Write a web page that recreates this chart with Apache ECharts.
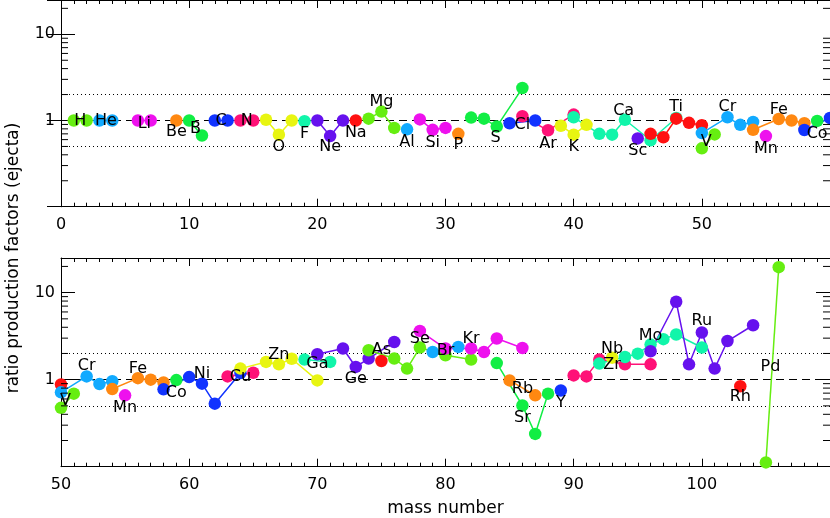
<!DOCTYPE html>
<html>
<head>
<meta charset="utf-8">
<script src="https://cdn.jsdelivr.net/npm/echarts@6.0.0/dist/echarts.min.js"></script>
<style>
  html, body { margin: 0; padding: 0; background: #fff; }
  #chart { width: 830px; height: 518px; }
</style>
</head>
<body>
<div id="chart"></div>
<script>
// isotope data: [mass number, ratio production factor]
const H  = [[1, 1.00], [2, 1.00]];
const He = [[3, 1.00], [4, 1.00]];
const Li = [[6, 1.00], [7, 1.00]];
const Be = [[9, 1.00]];
const B  = [[10, 1.00], [11, 0.67]];
const C  = [[12, 1.00], [13, 1.00]];
const N  = [[14, 1.00], [15, 1.00]];
const O  = [[16, 1.02], [17, 0.685], [18, 1.00]];
const F  = [[19, 0.98]];
const Ne = [[20, 1.00], [21, 0.66], [22, 1.00]];
const Na = [[23, 1.00]];
const Mg = [[24, 1.05], [25, 1.27], [26, 0.82]];
const Al = [[27, 0.79]];
const Si = [[28, 1.03], [29, 0.78], [30, 0.82]];
const P  = [[31, 0.70]];
const S  = [[32, 1.08], [33, 1.05], [34, 0.85], [36, 2.38]];
const Cl = [[35, 0.93], [37, 1.00]];
const Ar = [[36, 1.12], [38, 0.77], [40, 1.17]];
const K  = [[39, 0.87], [40, 0.685], [41, 0.89]];
const Ca = [[40, 1.09], [42, 0.70], [43, 0.685], [44, 1.02], [46, 0.59], [48, 1.07]];
const Sc = [[45, 0.62]];
const Ti = [[46, 0.70], [47, 0.64], [48, 1.05], [49, 0.94], [50, 0.88]];
const V  = [[50, 0.475], [51, 0.69]];
const Cr = [[50, 0.715], [52, 1.09], [53, 0.89], [54, 0.96]];
const Mn = [[55, 0.66]];
const Fe = [[54, 0.78], [56, 1.04], [57, 1.00], [58, 0.93]];
const Co = [[59, 0.99]];
const Ni = [[58, 0.775], [60, 1.07], [61, 0.90], [62, 0.53], [64, 1.19]];
const Cu = [[63, 1.09], [65, 1.20]];
const Zn = [[64, 1.34], [66, 1.60], [67, 1.50], [68, 1.74], [70, 0.98]];
const Ga = [[69, 1.70], [71, 1.60]];
const Ge = [[70, 1.96], [72, 2.28], [73, 1.40], [74, 1.75], [76, 2.71]];
const As = [[75, 1.64]];
const Se = [[74, 2.18], [76, 1.75], [77, 1.34], [78, 2.34], [80, 1.91], [82, 1.70]];
const Br = [[79, 2.08], [81, 2.38]];
const Kr = [[78, 3.63], [80, 2.28], [82, 2.28], [83, 2.08], [84, 2.97], [86, 2.31]];
const Rb = [[85, 0.98], [87, 0.66]];
const Sr = [[84, 1.55], [86, 0.505], [87, 0.238], [88, 0.69]];
const Y  = [[89, 0.75]];
const Zr = [[90, 1.12], [91, 1.09], [92, 1.70], [94, 1.50], [96, 1.50]];
const Nb = [[93, 1.79]];
const Mo = [[92, 1.53], [94, 1.82], [95, 1.99], [96, 2.53], [97, 2.92], [98, 3.30], [100, 2.34]];
const Ru = [[96, 2.12], [98, 7.86], [99, 1.50], [100, 3.48], [101, 1.34], [102, 2.78], [104, 4.22]];
const Rh = [[103, 0.84]];
const Pd = [[105, 0.112], [106, 19.6]];

const elementNames = ['H', 'He', 'Li', 'Be', 'B', 'C', 'N', 'O', 'F', 'Ne', 'Na', 'Mg', 'Al', 'Si', 'P', 'S',
  'Cl', 'Ar', 'K', 'Ca', 'Sc', 'Ti', 'V', 'Cr', 'Mn', 'Fe', 'Co', 'Ni', 'Cu', 'Zn', 'Ga', 'Ge', 'As', 'Se',
  'Br', 'Kr', 'Rb', 'Sr', 'Y', 'Zr', 'Nb', 'Mo', 'Ru', 'Rh', 'Pd'];
const elementData = [H, He, Li, Be, B, C, N, O, F, Ne, Na, Mg, Al, Si, P, S,
  Cl, Ar, K, Ca, Sc, Ti, V, Cr, Mn, Fe, Co, Ni, Cu, Zn, Ga, Ge, As, Se,
  Br, Kr, Rb, Sr, Y, Zr, Nb, Mo, Ru, Rh, Pd];

// where each element name is written (mass number, ratio)
const labelMass = [1.5, 3.5, 6.5, 9, 10.5, 12.5, 14.5, 17, 19, 21, 23, 25, 27, 29, 31, 33.9,
  36, 38, 40, 43.9, 45, 48, 50.35, 52, 55, 56, 59, 61, 64, 67, 70, 73, 75, 78,
  80, 82, 86, 86, 89, 93, 93, 96, 100, 103, 105.35];
const labelRatio = [0.98, 0.98, 0.92, 0.73, 0.80, 0.98, 0.98, 0.49, 0.70, 0.49, 0.72, 1.65, 0.56, 0.55, 0.52, 0.63,
  0.88, 0.54, 0.49, 1.30, 0.45, 1.45, 0.57, 1.43, 0.47, 1.34, 0.70, 1.17, 1.07, 1.94, 1.53, 1.03, 2.18, 2.92,
  2.12, 2.92, 0.79, 0.365, 0.54, 1.49, 2.28, 3.16, 4.70, 0.63, 1.42];

// colour cycle repeats every 11 elements
const palette = ['#66ee11', '#11aaff', '#ee11ee', '#ff8811', '#11ee44', '#1133ff',
  '#ff1177', '#e8f511', '#11f5aa', '#6611ee', '#ff1111'];

const panelRanges = [[0, 60], [50, 110]];
const yRange = [0.1, 25];
const refLines = [1, 2, 0.5];

const FONT = '"DejaVu Sans", sans-serif';

// log minor ticks 0.2..0.9, 2..9, 20
const yMinorTicks = [];
[0.1, 1, 10].forEach(d => {
  for (let k = 2; k <= 9; k++) if (k * d <= yRange[1]) yMinorTicks.push(k * d);
});

const chart = echarts.init(document.getElementById('chart'), null, { renderer: 'canvas' });

const grids = [];
const xAxes = [];
const yAxes = [];
const series = [];

panelRanges.forEach((range, p) => {
  const [xmin, xmax] = range;
  grids.push({ left: 61, width: 769, top: p === 0 ? -2 : 258, height: 208.7 });

  const xBase = {
    gridIndex: p, type: 'value', min: xmin, max: xmax, interval: 10,
    axisLine: { onZero: false, lineStyle: { color: '#000', width: 1 } },
    axisTick: { inside: true, length: 8, lineStyle: { color: '#000' } },
    minorTick: { show: true, splitNumber: 10, length: 4, lineStyle: { color: '#000' } },
    splitLine: { show: false }
  };
  xAxes.push(Object.assign({}, xBase, {
    position: 'bottom',
    axisLabel: { margin: 10, color: '#000', fontFamily: FONT, fontSize: 16, showMaxLabel: false },
    name: p === 1 ? 'mass number' : '',
    nameLocation: 'middle', nameGap: 33,
    nameTextStyle: { color: '#000', fontFamily: FONT, fontSize: 17 }
  }));
  xAxes.push(Object.assign({}, xBase, { position: 'top', axisLabel: { show: false } }));

  const yBase = {
    gridIndex: p, type: 'log', logBase: 10, min: yRange[0], max: yRange[1],
    axisLine: { lineStyle: { color: '#000', width: 1 } },
    axisTick: { inside: true, length: 14, lineStyle: { color: '#000' } },
    splitLine: { show: false }
  };
  yAxes.push(Object.assign({}, yBase, {
    position: 'left',
    axisLabel: {
      margin: 6, color: '#000', fontFamily: FONT, fontSize: 16,
      formatter: v => (Math.abs(v - 1) < 1e-6 ? '1' : Math.abs(v - 10) < 1e-6 ? '10' : '')
    }
  }));
  yAxes.push(Object.assign({}, yBase, { position: 'right', axisLabel: { show: false } }));

  const xi = 2 * p, yi = 2 * p;

  // reference lines at 1 (dashed), 2 and 0.5 (dotted)
  series.push({
    type: 'line', xAxisIndex: xi, yAxisIndex: yi, data: [], silent: true,
    markLine: {
      silent: true, symbol: 'none', z: 1, animation: false,
      label: { show: false },
      data: refLines.map(v => ({
        yAxis: v,
        lineStyle: { color: '#000', width: 1, type: v === 1 ? [8, 5] : [1, 3] }
      }))
    }
  });

  // log minor ticks on left and right axes
  series.push({
    type: 'custom', xAxisIndex: xi, yAxisIndex: yi, silent: true, clip: false, z: 4,
    data: yMinorTicks.map(v => [xmin, v]),
    encode: { x: 0, y: 1 },
    renderItem: (params, api) => {
      const v = api.value(1);
      const l = api.coord([xmin, v]);
      const r = api.coord([xmax, v]);
      return {
        type: 'group',
        children: [
          { type: 'line', shape: { x1: l[0], y1: l[1], x2: l[0] + 7, y2: l[1] }, style: { stroke: '#000', lineWidth: 1 } },
          { type: 'line', shape: { x1: r[0] - 7, y1: r[1], x2: r[0], y2: r[1] }, style: { stroke: '#000', lineWidth: 1 } }
        ]
      };
    }
  });

  elementData.forEach((iso, i) => {
    if (!iso.some(d => d[0] >= xmin && d[0] <= xmax)) return;
    const color = palette[i % palette.length];
    series.push({
      type: 'line', name: elementNames[i], xAxisIndex: xi, yAxisIndex: yi,
      data: iso, clip: true, z: 2,
      symbol: 'circle', symbolSize: 12.5, showAllSymbol: true,
      lineStyle: { color: color, width: 1.5 },
      itemStyle: { color: color, borderWidth: 0 },
      emphasis: { disabled: true }
    });
  });

  series.push({
    type: 'scatter', xAxisIndex: xi, yAxisIndex: yi, z: 5, silent: true,
    symbolSize: 1, itemStyle: { color: 'rgba(0,0,0,0)' },
    data: elementNames
      .map((n, i) => ({ name: n, value: [labelMass[i], labelRatio[i]] }))
      .filter(d => d.value[0] >= xmin && d.value[0] <= xmax),
    label: {
      show: true, position: 'inside', formatter: '{b}',
      color: '#000', textBorderWidth: 0, opacity: 1,
      fontFamily: FONT, fontSize: 16
    }
  });
});

chart.setOption({
  animation: false,
  grid: grids,
  xAxis: xAxes,
  yAxis: yAxes,
  series: series,
  graphic: [{
    type: 'text', x: 14, y: 258, rotation: Math.PI / 2,
    style: {
      text: 'ratio production factors (ejecta)', fill: '#000',
      font: '17px "DejaVu Sans", sans-serif', textAlign: 'center', textVerticalAlign: 'middle'
    }
  }]
});
</script>
</body>
</html>
